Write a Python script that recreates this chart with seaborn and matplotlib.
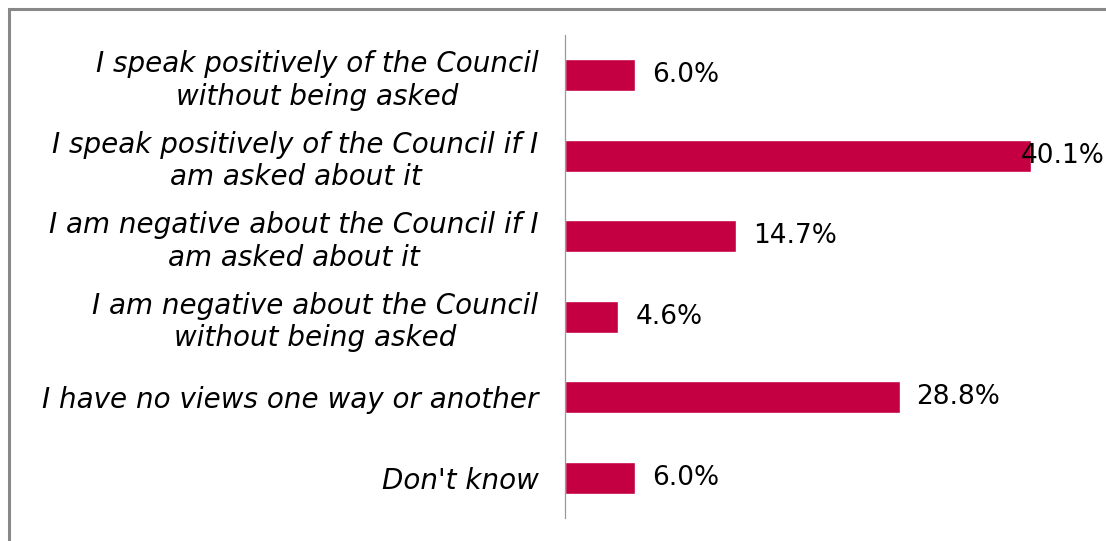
import matplotlib
matplotlib.use("Agg")
import matplotlib.pyplot as plt
import seaborn as sns
import pandas as pd
from matplotlib.patches import Rectangle

categories = [
    "I speak positively of the Council\nwithout being asked",
    "I speak positively of the Council if I\nam asked about it",
    "I am negative about the Council if I\nam asked about it",
    "I am negative about the Council\nwithout being asked",
    "I have no views one way or another",
    "Don't know",
]
values = [6.0, 40.1, 14.7, 4.6, 28.8, 6.0]
value_labels = ["6.0%", "40.1%", "14.7%", "4.6%", "28.8%", "6.0%"]

df = pd.DataFrame({"response": categories, "pct": values})

sns.set_theme(style="white")
plt.rcParams["font.family"] = ["DejaVu Sans"]

W, H = 1106, 541
fig = plt.figure(figsize=(W / 100, H / 100), dpi=100)
ax = fig.add_axes([565 / W, (H - 518) / H, 1 - 565 / W, (518 - 35) / H])

bar_color = "#C40043"
sns.barplot(data=df, x="pct", y="response", orient="h", color=bar_color,
            width=0.4, saturation=1, ax=ax)

xmax = 46.56
ax.set_xlim(0, xmax)
ax.set_ylim(len(categories) - 0.5, -0.5)

ax.set_xlabel("")
ax.set_ylabel("")
ax.set_xticks([])
ax.tick_params(axis="y", length=0, pad=19)
ax.set_yticklabels(categories, fontsize=20, style="italic",
                   multialignment="center", color="black")
for tl in ax.get_yticklabels():
    tl.set_linespacing(1.2)

for side in ["top", "right", "bottom"]:
    ax.spines[side].set_visible(False)
ax.spines["left"].set_color("#9a9a9a")
ax.spines["left"].set_linewidth(0.9)

# value labels just past each bar, kept inside the plotting area
for i, (v, lab) in enumerate(zip(values, value_labels)):
    x = min(v + 1.46, xmax - 7.3)
    ax.text(x, i, lab, va="center", ha="left", fontsize=19, color="black")

# frame around the chart area
fig.patches.append(Rectangle((9 / W, -0.05), 1.1, (H - 9) / H + 0.05,
                             transform=fig.transFigure, fill=False,
                             edgecolor="#888888", linewidth=2.2))

fig.savefig("out.png", dpi=100)
